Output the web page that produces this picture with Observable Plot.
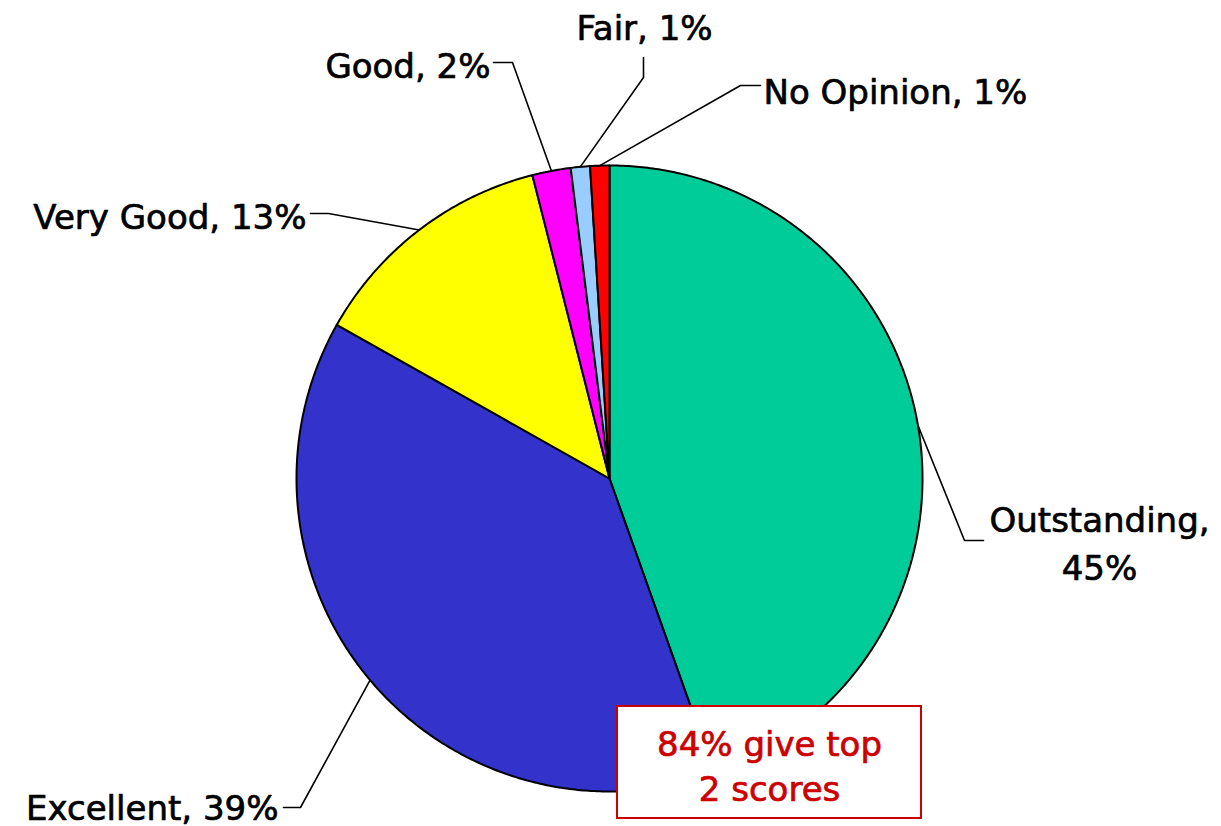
<!DOCTYPE html>
<html>
<head>
<meta charset="utf-8">
<script src="https://cdn.jsdelivr.net/npm/d3@7"></script>
<script src="https://cdn.jsdelivr.net/npm/@observablehq/plot@0.6"></script>
<style>
  html, body { margin: 0; padding: 0; background: #fff; }
  #chart svg { display: block; }
</style>
</head>
<body>
<div id="chart"></div>
<script>
// ---- data ----
const categories = ["Outstanding", "Excellent", "Very Good", "Good", "Fair", "No Opinion"];
const values = [45, 39, 13, 2, 1, 1];
const sliceColors = ["#00CC99", "#3333CC", "#FFFF00", "#FF00FF", "#99CCFF", "#FF0000"];
const calloutLines = ["84% give top", "2 scores"];

// ---- layout (pixels) ----
const W = 1221, H = 826;
const CX = 609, CY = 478, R = 313;
const FONT = "'DejaVu Sans', sans-serif";
const FS = 34;
// label layout: elbow and end of leader line, text anchor point
const labelLayout = [
  {elbow: [964, 540], end: [983, 540], tx: 1099, ty: 540, anchor: "middle", twoLine: true},
  {elbow: [300, 807], end: [283, 807], tx: 278, ty: 804, anchor: "end"},
  {elbow: [328, 213], end: [310, 213], tx: 306, ty: 213, anchor: "end"},
  {elbow: [512, 62], end: [493, 62], tx: 490, ty: 62, anchor: "end"},
  {elbow: [643, 77], end: [643, 57], tx: 644, ty: 24, anchor: "middle"},
  {elbow: [740, 85], end: [760, 85], tx: 763, ty: 88, anchor: "start"}
];
const boxLayout = {x1: 617, x2: 921, y1: 706, y2: 818, tx: 769, ty: 764};

// ---- derived geometry ----
const arcs = d3.pie().sort(null).startAngle(0).endAngle(2 * Math.PI)(values);
const px = a => CX + R * Math.sin(a);
const py = a => CY - R * Math.cos(a);

const slicePts = [];
arcs.forEach((a, i) => {
  const name = categories[i];
  slicePts.push({name, color: sliceColors[i], x: CX, y: CY});
  const n = Math.max(4, Math.ceil((a.endAngle - a.startAngle) / (Math.PI / 360)));
  for (let k = 0; k <= n; k++) {
    const t = a.startAngle + (a.endAngle - a.startAngle) * k / n;
    slicePts.push({name, color: sliceColors[i], x: px(t), y: py(t)});
  }
  slicePts.push({name, color: sliceColors[i], x: CX, y: CY});
});

const leaderPts = [];
const labels = [];
arcs.forEach((a, i) => {
  const mid = (a.startAngle + a.endAngle) / 2;
  const L = labelLayout[i];
  const name = categories[i];
  leaderPts.push({name, x: px(mid), y: py(mid)});
  leaderPts.push({name, x: L.elbow[0], y: L.elbow[1]});
  leaderPts.push({name, x: L.end[0], y: L.end[1]});
  labels.push({
    text: L.twoLine ? `${name},\n${values[i]}%` : `${name}, ${values[i]}%`,
    x: L.tx, y: L.ty, anchor: L.anchor
  });
});

const marks = [
  Plot.line(slicePts, {x: "x", y: "y", z: "name", fill: "color", stroke: "#000", strokeWidth: 2, strokeLinejoin: "round"}),
  Plot.line(leaderPts, {x: "x", y: "y", z: "name", stroke: "#000", strokeWidth: 1.6})
];
for (const anchor of ["start", "middle", "end"]) {
  marks.push(Plot.text(labels.filter(d => d.anchor === anchor), {
    x: "x", y: "y", text: "text", textAnchor: anchor, lineAnchor: "middle",
    fontFamily: FONT, fontSize: FS, fill: "#000", stroke: "#000", strokeWidth: 0.7,
    lineHeight: 1.42
  }));
}
marks.push(Plot.rect([boxLayout], {x1: "x1", x2: "x2", y1: "y1", y2: "y2", fill: "#fff", stroke: "#CC0000", strokeWidth: 2}));
marks.push(Plot.text([boxLayout], {
  x: "tx", y: "ty", text: () => calloutLines.join("\n"), textAnchor: "middle", lineAnchor: "middle",
  fontFamily: FONT, fontSize: FS, fill: "#CC0000", stroke: "#CC0000", strokeWidth: 0.7, lineHeight: 1.32
}));

const chart = Plot.plot({
  width: W, height: H,
  margin: 0,
  x: {type: "identity", axis: null},
  y: {type: "identity", axis: null},
  color: {type: "identity"},
  style: {background: "#fff", overflow: "visible"},
  marks
});
document.getElementById("chart").appendChild(chart);
</script>
</body>
</html>
